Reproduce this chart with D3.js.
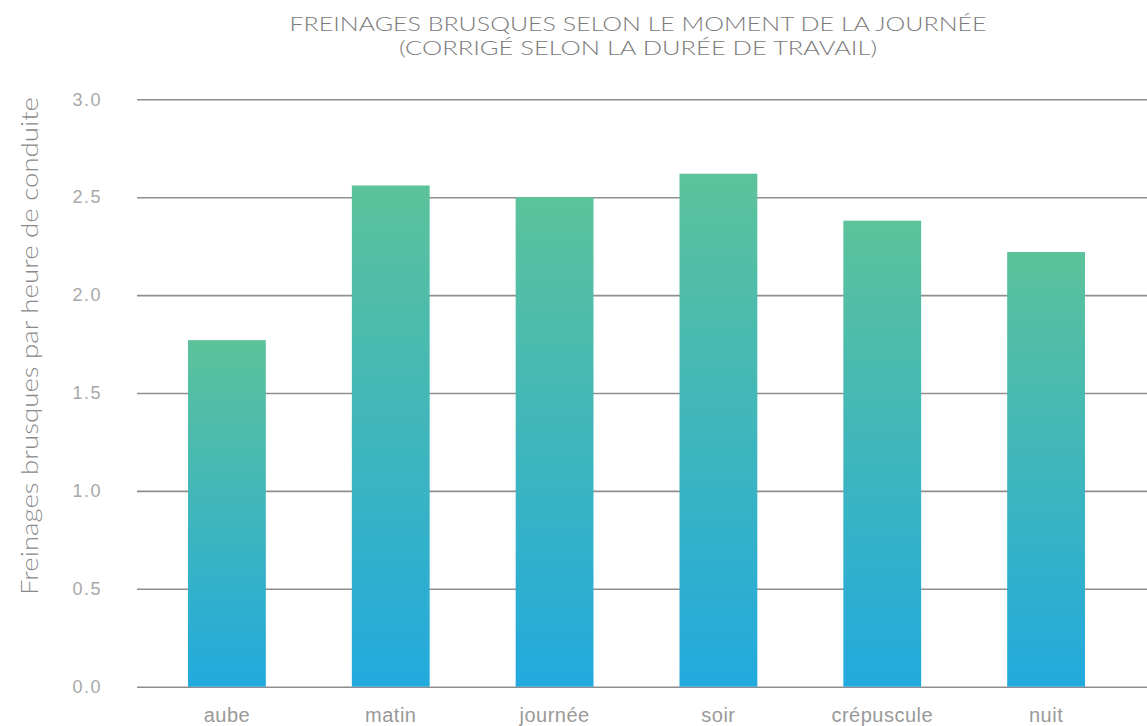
<!DOCTYPE html>
<meta charset="utf-8" />
<style>
  body {
    margin: 0;
    background: #fff;
    font-family: Lato, "Open Sans", sans-serif;
  }
  .grid line {
    stroke: #8e8e8e;
    stroke-width: 1.6;
  }
  .grid .domain {
    display: none;
  }
  .yaxis .tick text {
    fill: #a8a8a8;
    font-size: 18px;
    font-weight: 300;
    letter-spacing: 1.5px;
  }
  .xaxis .tick text {
    fill: #999;
    font-size: 20px;
    font-weight: 300;
    letter-spacing: 0.5px;
  }
</style>
<body>
  <div class="container"></div>
  <script src="https://d3js.org/d3.v7.min.js"></script>
  <script>
    const categories = ["aube", "matin", "journée", "soir", "crépuscule", "nuit"];
    const values = [1.77, 2.56, 2.5, 2.62, 2.38, 2.22];
    const yTicks = [0, 0.5, 1, 1.5, 2, 2.5, 3];

    const width = 1147,
      height = 726;

    const svg = d3
      .select(".container")
      .append("svg")
      .attr("width", width)
      .attr("height", height);

    // gradient per bar, green at top to blue at bottom
    const grad = svg
      .append("defs")
      .append("linearGradient")
      .attr("id", "barGrad")
      .attr("x1", 0)
      .attr("y1", 0)
      .attr("x2", 0)
      .attr("y2", 1);
    grad.append("stop").attr("offset", "0%").attr("stop-color", "#5cc29a");
    grad.append("stop").attr("offset", "100%").attr("stop-color", "#22aade");

    let y = d3.scaleLinear().domain([0, 3]).range([686.7, 99.3]);
    let x = d3
      .scaleBand()
      .domain(categories)
      .range([145, 1128])
      .paddingInner(0.525)
      .paddingOuter(0.2625);

    // gridlines
    const yGrid = d3
      .axisLeft(y)
      .tickValues(yTicks)
      .tickSize(-(1147 - 137))
      .tickFormat("");
    svg
      .append("g")
      .attr("class", "grid")
      .attr("transform", "translate(137,0)")
      .call(yGrid);

    // y tick labels
    const yAxis = d3
      .axisLeft(y)
      .tickValues(yTicks)
      .tickSize(0)
      .tickPadding(0)
      .tickFormat(d3.format(".1f"));
    svg
      .append("g")
      .attr("class", "yaxis")
      .attr("transform", "translate(102,0)")
      .call(yAxis)
      .call((g) => g.select(".domain").remove());

    // bars
    svg
      .selectAll(".bar")
      .data(values)
      .enter()
      .append("rect")
      .attr("class", "bar")
      .attr("x", (d, i) => x(categories[i]))
      .attr("width", x.bandwidth())
      .attr("y", (d) => y(d))
      .attr("height", (d) => y(0) - y(d))
      .attr("fill", "url(#barGrad)");

    // x labels
    const xAxis = d3.axisBottom(x).tickSize(0).tickPadding(21);
    svg
      .append("g")
      .attr("class", "xaxis")
      .attr("transform", "translate(0," + y(0) + ")")
      .call(xAxis)
      .call((g) => g.select(".domain").remove());

    // title, two lines
    const titleLines = [
      { text: "FREINAGES BRUSQUES SELON LE MOMENT DE LA JOURNÉE", y: 31, len: 697 },
      { text: "(CORRIGÉ SELON LA DURÉE DE TRAVAIL)", y: 55, len: 478 },
    ];
    svg
      .selectAll(".title")
      .data(titleLines)
      .enter()
      .append("text")
      .attr("class", "title")
      .attr("text-anchor", "middle")
      .attr("x", 638)
      .attr("y", (d) => d.y)
      .attr("textLength", (d) => d.len)
      .attr("lengthAdjust", "spacingAndGlyphs")
      .attr("fill", "#7a7a7a")
      .style("font-size", "19px")
      .style("font-weight", 300)
      .text((d) => d.text);

    // y label
    svg
      .append("text")
      .attr("text-anchor", "middle")
      .attr("transform", "translate(38,346) rotate(-90)")
      .attr("fill", "#8a8a8a")
      .attr("textLength", 498)
      .attr("lengthAdjust", "spacingAndGlyphs")
      .style("font-size", "24px")
      .style("font-weight", 300)
      .text("Freinages brusques par heure de conduite");
  </script>
</body>
